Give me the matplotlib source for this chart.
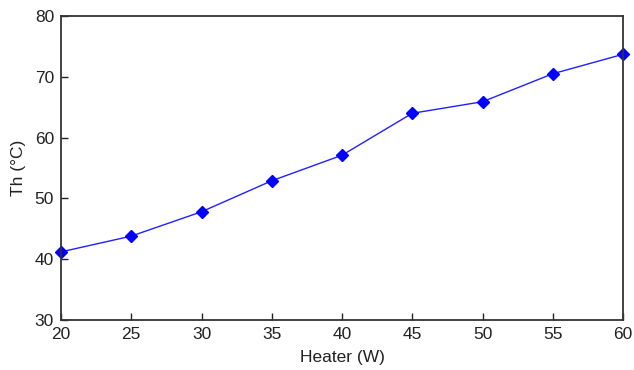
import matplotlib.pyplot as plt

heater_w = [20, 25, 30, 35, 40, 45, 50, 55, 60]
th_c = [41.2, 43.8, 47.8, 52.9, 57.1, 64.0, 65.9, 70.5, 73.7]

plt.rcParams['font.family'] = ['Liberation Sans', 'DejaVu Sans']

fig = plt.figure(figsize=(6.34, 3.7), dpi=100)
ax = fig.add_axes([61 / 634, 1 - 320 / 370, (623 - 61) / 634, (320 - 16) / 370])

ax.plot(heater_w, th_c, color='#2020ff', lw=1.0, marker='D', markersize=6,
        markerfacecolor='blue', markeredgecolor='blue', clip_on=False)

ax.set_xlim(20, 60)
ax.set_ylim(30, 80)
ax.set_xticks(range(20, 61, 5))
ax.set_yticks(range(30, 81, 10))
ax.tick_params(direction='in', length=5, width=1, labelsize=12.5, colors='#222222', pad=5)
for s in ax.spines.values():
    s.set_linewidth(1.3)
    s.set_color('#333333')

ax.set_xlabel('Heater (W)', fontsize=12.5, labelpad=6, color='#222222')
ax.set_ylabel('Th (°C)', fontsize=12.5, labelpad=6, color='#222222')

fig.savefig('out.png', dpi=100)
